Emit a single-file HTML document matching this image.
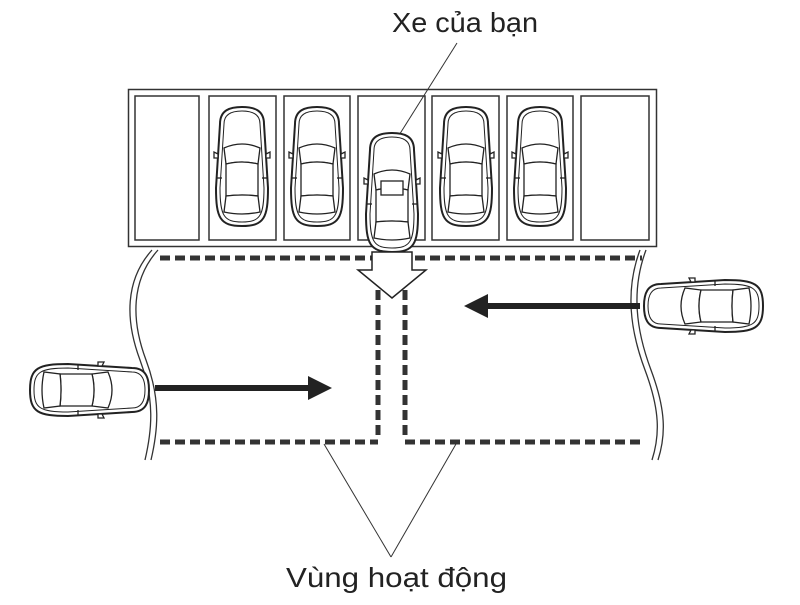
<!DOCTYPE html>
<html><head><meta charset="utf-8"><style>
html,body{margin:0;padding:0;background:#fff;}
svg{display:block;}
text{font-family:"Liberation Sans","DejaVu Sans",sans-serif;fill:#222;}
</style></head><body>
<svg width="800" height="605" viewBox="0 0 800 605" xmlns="http://www.w3.org/2000/svg">
<defs>
<g id="car" fill="#fff" stroke="#222" stroke-width="1.3">
  <path d="M-22,-44 C-22,-58 -12,-61 0,-61 C12,-61 22,-58 22,-44 L26,20 C26,50 22,58 0,58 C-22,58 -26,50 -26,20 Z" stroke-width="2"/>
  <path d="M-18,-44 C-18,-54 -10,-57 0,-57 C10,-57 18,-54 18,-44 L22,20 C22,48 18,54 0,54 C-18,54 -22,48 -22,20 Z" stroke-width="1"/>
  <path d="M-18,-20 Q0,-28 18,-20 L16,-4 Q0,-8 -16,-4 Z"/>
  <path d="M-16,-4 Q0,-8 16,-4 L16,28 Q0,26 -16,28 Z"/>
  <path d="M-16,28 Q0,26 16,28 L18,44 Q0,48 -18,44 Z"/>
  <path d="M-24,-14 l-4,-2 l0,6 l4,0 Z M24,-14 l4,-2 l0,6 l-4,0 Z"/>
  <line x1="-20" y1="10" x2="-25" y2="10"/><line x1="20" y1="10" x2="25" y2="10"/>
</g>
</defs>

<text x="392" y="32" font-size="28" textLength="146" lengthAdjust="spacingAndGlyphs">Xe của bạn</text>

<!-- parking lot -->
<rect x="128.5" y="89.5" width="528" height="157" fill="#fff" stroke="#333" stroke-width="1.5"/>
<g fill="none" stroke="#333" stroke-width="1.5">
<rect x="135" y="96" width="64" height="144"/>
<rect x="209" y="96" width="67" height="144"/>
<rect x="284" y="96" width="66" height="144"/>
<rect x="358" y="96" width="67" height="144"/>
<rect x="432" y="96" width="67" height="144"/>
<rect x="507" y="96" width="66" height="144"/>
<rect x="581" y="96" width="68" height="144"/>
</g>
<line x1="457" y1="43" x2="396" y2="140" stroke="#333" stroke-width="1"/>
<use href="#car" transform="translate(242,168)"/>
<use href="#car" transform="translate(317,168)"/>
<use href="#car" transform="translate(466,168)"/>
<use href="#car" transform="translate(540,168)"/>

<!-- road edges -->
<g fill="none" stroke="#333" stroke-width="1.3">
<path d="M152,250 C125,280 125,320 140,360 C155,400 152,430 145,460"/>
<path d="M158,250 C131,280 131,320 146,360 C161,400 158,430 151,460"/>
<path d="M640,250 C625,290 630,330 645,370 C660,410 660,435 652,460"/>
<path d="M646,250 C631,290 636,330 651,370 C666,410 666,435 658,460"/>
</g>

<!-- dashed lines -->
<g fill="none" stroke="#333" stroke-width="5" stroke-dasharray="10,5">
<line x1="160" y1="258" x2="642" y2="258"/>
<line x1="160" y1="442" x2="378" y2="442"/>
<line x1="405" y1="442" x2="642" y2="442"/>
<line x1="378" y1="290" x2="378" y2="440"/>
<line x1="405" y1="290" x2="405" y2="440"/>
</g>

<!-- your car -->
<use href="#car" transform="translate(392,194)"/>
<rect x="381" y="181" width="22" height="14" fill="#fff" stroke="#222" stroke-width="1.3"/>

<!-- hollow arrow -->
<path d="M372,252 L412,252 L412,270 L426,270 L392,298 L358,270 L372,270 Z" fill="#fff" stroke="#222" stroke-width="1.5"/>

<!-- solid arrows -->
<rect x="155" y="385" width="155" height="6" fill="#222"/>
<path d="M308,376 L332,388 L308,400 Z" fill="#222"/>
<rect x="485" y="303" width="155" height="6" fill="#222"/>
<path d="M488,294 L464,306 L488,318 Z" fill="#222"/>

<!-- side cars -->
<use href="#car" transform="translate(88,390) rotate(90)"/>
<use href="#car" transform="translate(705,306) rotate(-90)"/>

<line x1="324" y1="444" x2="391" y2="557" stroke="#333" stroke-width="1"/>
<line x1="456" y1="444" x2="391" y2="557" stroke="#333" stroke-width="1"/>
<text x="286" y="587" font-size="28" textLength="221" lengthAdjust="spacingAndGlyphs">Vùng hoạt động</text>
</svg>
</body></html>
